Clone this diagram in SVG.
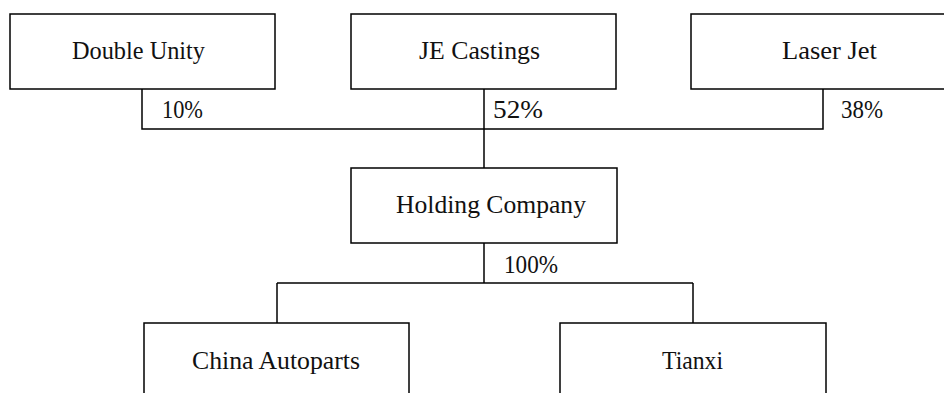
<svg xmlns="http://www.w3.org/2000/svg" width="944" height="393" viewBox="0 0 944 393">
<style>
.box{fill:#fff;stroke:#000;stroke-width:1.5}
.t{font-family:"Liberation Serif","Times New Roman",serif;font-size:25px;fill:#111}
.ln{stroke:#000;stroke-width:1.5;fill:none}
</style>
<rect width="944" height="393" fill="#fff"/>
<g id="connectors">
<path class="ln" d="M142 89V129H823V89"/>
<path class="ln" d="M484 89V168"/>
<path class="ln" d="M484 243V283"/>
<path class="ln" d="M277 283H693"/>
<path class="ln" d="M277 283V323"/>
<path class="ln" d="M693 283V323"/>
<text class="t" x="162" y="118" textLength="41" lengthAdjust="spacingAndGlyphs">10%</text>
<text class="t" x="493" y="118" textLength="50" lengthAdjust="spacingAndGlyphs">52%</text>
<text class="t" x="841" y="118" textLength="42" lengthAdjust="spacingAndGlyphs">38%</text>
<text class="t" x="504" y="273" textLength="54" lengthAdjust="spacingAndGlyphs">100%</text>
</g>
<g id="double-unity">
<rect class="box" x="10" y="14" width="265" height="75"/>
<text class="t" x="72" y="59" textLength="133" lengthAdjust="spacingAndGlyphs">Double Unity</text>
</g>
<g id="je-castings">
<rect class="box" x="351" y="14" width="265" height="75"/>
<text class="t" x="419" y="59" textLength="121" lengthAdjust="spacingAndGlyphs">JE Castings</text>
</g>
<g id="laser-jet">
<rect class="box" x="691" y="14" width="265" height="75"/>
<text class="t" x="782" y="59" textLength="95" lengthAdjust="spacingAndGlyphs">Laser Jet</text>
</g>
<g id="holding-company">
<rect class="box" x="351" y="168" width="266" height="75"/>
<text class="t" x="396" y="213" textLength="190" lengthAdjust="spacingAndGlyphs">Holding Company</text>
</g>
<g id="china-autoparts">
<rect class="box" x="144" y="323" width="265" height="90"/>
<text class="t" x="192" y="369" textLength="168" lengthAdjust="spacingAndGlyphs">China Autoparts</text>
</g>
<g id="tianxi">
<rect class="box" x="560" y="323" width="266" height="90"/>
<text class="t" x="662" y="369" textLength="61" lengthAdjust="spacingAndGlyphs">Tianxi</text>
</g>
</svg>
